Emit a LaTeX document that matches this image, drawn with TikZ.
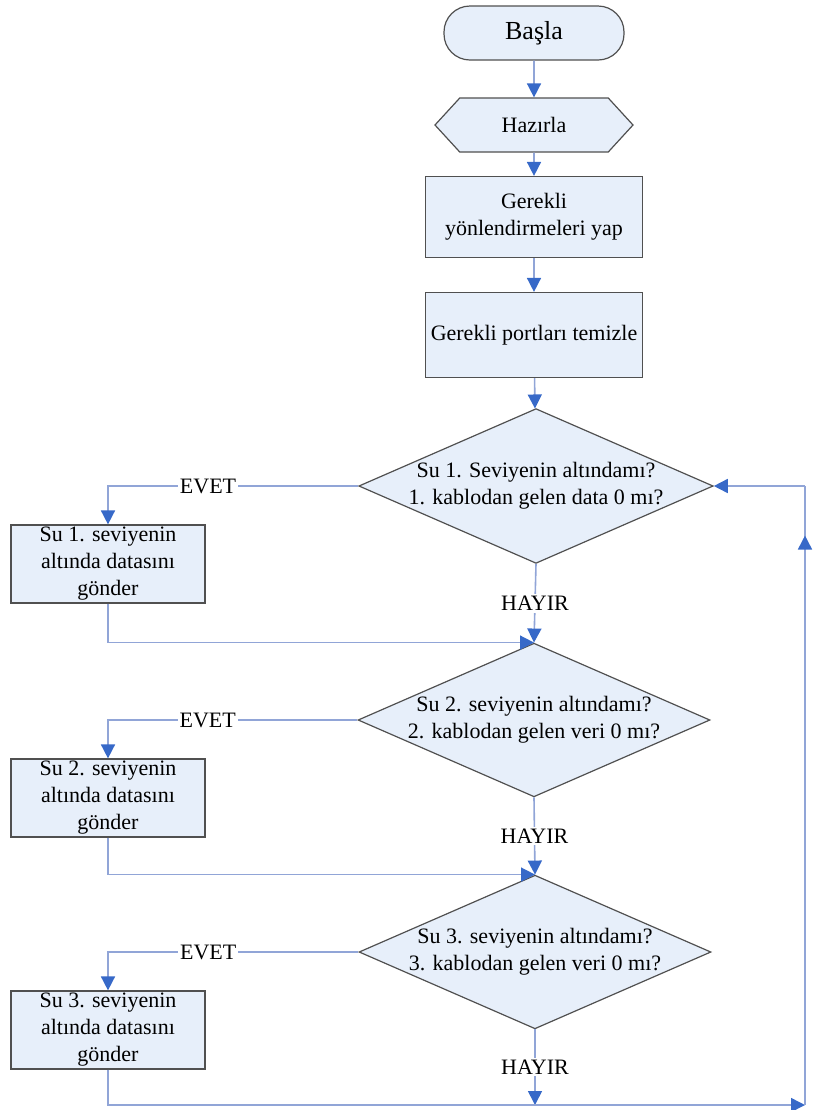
\documentclass[tikz,border=0pt]{standalone}
\usepackage{fontspec}
\setmainfont{Liberation Serif}
\usetikzlibrary{arrows.meta, shapes.geometric, shapes.symbols, decorations.markings}

\definecolor{boxfill}{RGB}{231,239,250}
\definecolor{boxline}{RGB}{80,80,80}
\definecolor{flowline}{RGB}{145,165,215}
\definecolor{tipblue}{RGB}{55,105,200}

\tikzset{
  base/.style={draw=boxline, fill=boxfill, line width=0.6pt, inner sep=0pt,
    align=center, font=\fontsize{11}{13.5}\selectfont},
  terminal/.style={base, rectangle, rounded corners=13pt, minimum width=90pt,
    minimum height=27pt, font=\fontsize{13}{15}\selectfont},
  prep/.style={base, signal, signal to=east and west, signal pointer angle=95,
    minimum width=99pt, minimum height=27pt},
  process/.style={base, rectangle, minimum width=108.5pt},
  sendbox/.style={base, rectangle, minimum width=97pt, minimum height=39pt},
  decision/.style={base, diamond, aspect=2.29, inner xsep=-2pt, inner ysep=0pt},
  line/.style={draw=flowline, line width=0.8pt},
  flow/.style={line, -{Triangle[length=7pt, width=7pt, color=tipblue]}},
  lbl/.style={fill=white, inner sep=1pt, font=\fontsize{11}{13}\selectfont}
}

\begin{document}
\begin{tikzpicture}[x=0.5pt, y=-0.5pt]
  \useasboundingbox (0,0) rectangle (819,1110);

  % main column
  \node[terminal] (start) at (534,33) {Başla};
  \node[prep] (prep) at (534,125) {Hazırla};
  \node[process, minimum height=40.5pt] (route) at (534,217) {Gerekli\\yönlendirmeleri yap};
  \node[process, minimum height=42.5pt] (clear) at (534,335) {Gerekli portları temizle};

  % checks
  \node[decision] (q1) at (536,486) {Su 1. Seviyenin altındamı?\\1. kablodan gelen data 0 mı?};
  \node[decision] (q2) at (534,720) {Su 2. seviyenin altındamı?\\2. kablodan gelen veri 0 mı?};
  \node[decision] (q3) at (535,952) {Su 3. seviyenin altındamı?\\3. kablodan gelen veri 0 mı?};

  % send boxes
  \node[sendbox] (send1) at (108,564) {Su 1. seviyenin\\altında datasını\\gönder};
  \node[sendbox] (send2) at (108,798) {Su 2. seviyenin\\altında datasını\\gönder};
  \node[sendbox] (send3) at (108,1030) {Su 3. seviyenin\\altında datasını\\gönder};

  \coordinate (back) at (805,1105);

  \draw[flow] (start) -- (prep);
  \draw[flow] (prep) -- (route);
  \draw[flow] (route) -- (clear);
  \draw[flow] (clear) -- (q1);

  \draw[flow] (q1.west) -| node[lbl, pos=0.3] {EVET} (send1.north);
  \draw[flow] (q1.south) -- node[lbl] {HAYIR} (q2.north);
  \draw[flow] (send1.south) |- (q2.north);

  \draw[flow] (q2.west) -| node[lbl, pos=0.3] {EVET} (send2.north);
  \draw[flow] (q2.south) -- node[lbl] {HAYIR} (q3.north);
  \draw[flow] (send2.south) |- (q3.north);

  \draw[flow] (q3.west) -| node[lbl, pos=0.3] {EVET} (send3.north);
  \draw[flow] (q3.south) -- node[lbl] {HAYIR} (q3.south |- back);
  \draw[flow] (send3.south) |- (back);

  % back to the first check
  \draw[line, postaction={decorate}, decoration={markings,
      mark=at position 0.92 with {\arrow{Triangle[length=7pt, width=7pt, color=tipblue]}}}]
    (back) -- (back |- q1.east);
  \draw[flow] (back |- q1.east) -- (q1.east);
\end{tikzpicture}
\end{document}
